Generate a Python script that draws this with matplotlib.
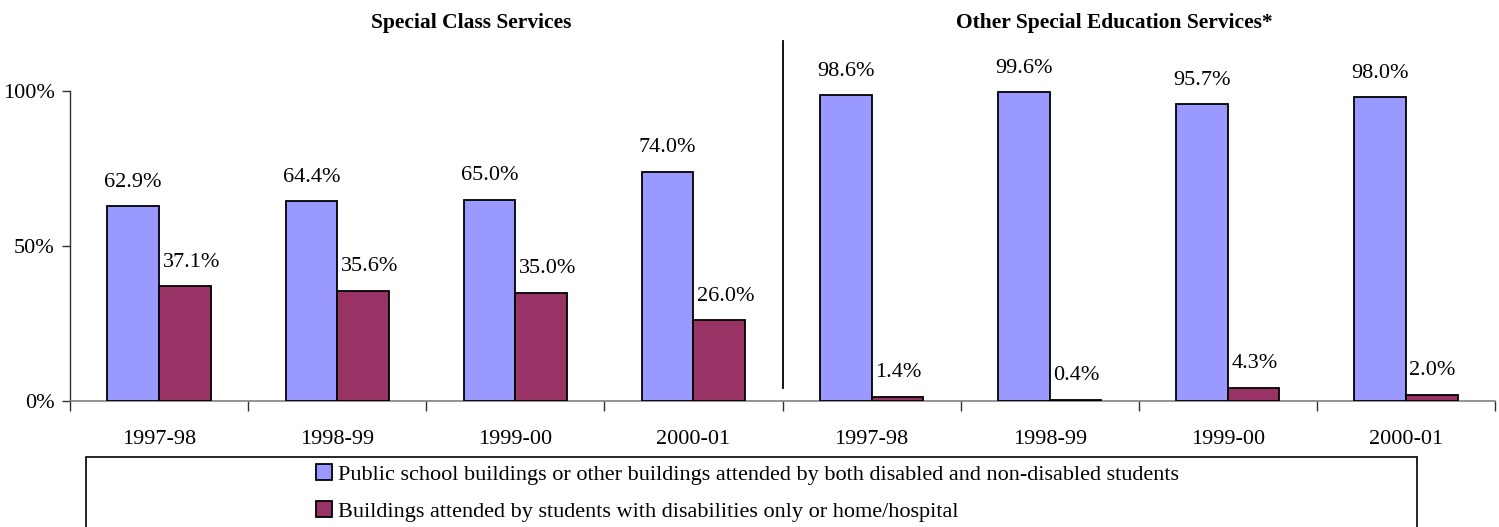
import matplotlib
matplotlib.use("Agg")
import matplotlib.pyplot as plt
from matplotlib.patches import Rectangle, Patch
import numpy as np

plt.rcParams['font.family'] = ['Liberation Serif', 'DejaVu Serif']

years = ["1997-98", "1998-99", "1999-00", "2000-01", "1997-98", "1998-99", "1999-00", "2000-01"]
public_vals = [62.9, 64.4, 65.0, 74.0, 98.6, 99.6, 95.7, 98.0]
disabled_vals = [37.1, 35.6, 35.0, 26.0, 1.4, 0.4, 4.3, 2.0]
series_names = ["Public school buildings or other buildings attended by both disabled and non-disabled students",
                "Buildings attended by students with disabilities only or home/hospital"]
section_titles = ["Special Class Services", "Other Special Education Services*"]

blue = "#9999FF"
red = "#993366"

W, H = 1499, 527
fig = plt.figure(figsize=(W / 100, H / 100), dpi=100)
ax = fig.add_axes([70 / W, 1 - 401 / H, (1495 - 70) / W, (401 - 91) / H])

x = np.arange(len(years))
bw = 0.29
ax.bar(x - bw / 2, public_vals, bw, color=blue, edgecolor="black", linewidth=1.3, zorder=3)
ax.bar(x + bw / 2, disabled_vals, bw, color=red, edgecolor="black", linewidth=1.3, zorder=3)

fs = 16
for xi, v in zip(x, public_vals):
    ax.annotate(f"{v:.1f}%", (xi - bw / 2, v), xytext=(0, 14), textcoords="offset points",
                ha="center", va="baseline", fontsize=fs, annotation_clip=False)
for xi, v in zip(x, disabled_vals):
    ax.annotate(f"{v:.1f}%", (xi, v), xytext=(2.5, 14), textcoords="offset points",
                ha="left", va="baseline", fontsize=fs, annotation_clip=False)

ax.set_xlim(-0.5, len(years) - 0.5)
ax.set_ylim(0, 100)
ax.set_yticks([0, 50, 100])
ax.set_yticklabels(["0%", "50%", "100%"], fontsize=fs)
ax.set_xticks(np.arange(-0.5, len(years)), minor=False)
ax.set_xticklabels([])
ax.set_xticks(x, minor=True)
ax.set_xticklabels(years, minor=True, fontsize=fs)
ax.tick_params(axis="x", which="major", length=7, direction="out", color="#303030", width=1)
ax.tick_params(axis="x", which="minor", length=0, pad=21)
ax.tick_params(axis="y", length=6, direction="out", color="#303030", width=1, pad=5)
for s in ["top", "right"]:
    ax.spines[s].set_visible(False)
ax.spines["left"].set_color("#303030")
ax.spines["bottom"].set_color("#808080")
ax.spines["left"].set_linewidth(1)
ax.spines["bottom"].set_linewidth(1.2)

# divider line between sections
ax.plot([3.5, 3.5], [4.2, 116], color="black", linewidth=1.3, clip_on=False, zorder=4)

# section titles
ax.text(1.75, 122, section_titles[0], ha="center", va="center", fontsize=15.5, fontweight="bold")
ax.text(5.36, 122, section_titles[1], ha="center", va="center", fontsize=15.5, fontweight="bold")

# legend box
rect = Rectangle((86 / W, -0.2), (1417 - 86) / W, 0.2 + 1 - 457 / H, transform=fig.transFigure,
                 facecolor="none", edgecolor="black", linewidth=1.2, clip_on=False)
fig.patches.append(rect)
handles = [Patch(facecolor=blue, edgecolor="black", linewidth=1.3),
           Patch(facecolor=red, edgecolor="black", linewidth=1.3)]
fig.legend(handles, series_names, loc="upper left", bbox_to_anchor=(316 / W, 1 - 464 / H),
           frameon=False, fontsize=fs, handlelength=0.7, handleheight=0.7,
           handletextpad=0.3, labelspacing=0.75, borderpad=0, borderaxespad=0)

fig.savefig("out.png", dpi=100)
